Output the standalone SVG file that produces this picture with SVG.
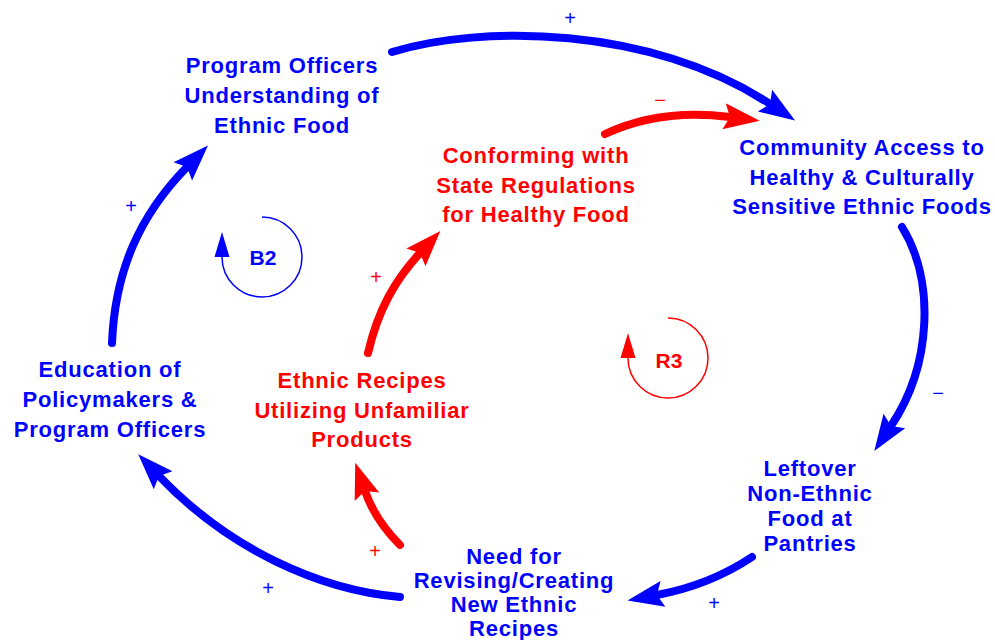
<svg xmlns="http://www.w3.org/2000/svg" width="995" height="640" viewBox="0 0 995 640">
<style>
.lbl{font-family:"Liberation Sans",Arial,sans-serif;font-weight:bold;font-size:22px;letter-spacing:0.8px;text-anchor:middle}
.b{fill:#0000FF}
.r{fill:#FF0000}
.pol{font-family:"Liberation Sans",Arial,sans-serif;font-size:20px;text-anchor:middle}
.cb{fill:none;stroke:#0000FF;stroke-width:8;stroke-linecap:round}
.cr{fill:none;stroke:#FF0000;stroke-width:8;stroke-linecap:round}
.loopb{fill:none;stroke:#0000FF;stroke-width:1.5}
.loopr{fill:none;stroke:#FF0000;stroke-width:1.5}
.lt{font-family:"Liberation Sans",Arial,sans-serif;font-weight:bold;font-size:21px;text-anchor:middle}
</style>
<defs>
<marker id="ab" markerUnits="userSpaceOnUse" markerWidth="44" markerHeight="32" viewBox="0 -16 44 32" refX="6" refY="0" orient="auto">
<path d="M0,-13 L36,0 L0,13 L6,0 z" fill="#0000FF"/>
</marker>
<marker id="ar" markerUnits="userSpaceOnUse" markerWidth="44" markerHeight="32" viewBox="0 -16 44 32" refX="6" refY="0" orient="auto">
<path d="M0,-13 L36,0 L0,13 L6,0 z" fill="#FF0000"/>
</marker>
<marker id="sb" markerUnits="userSpaceOnUse" markerWidth="28" markerHeight="18" viewBox="0 -9 28 18" refX="0" refY="0" orient="auto">
<path d="M0,-7.5 L25,0 L0,7.5 z" fill="#0000FF"/>
</marker>
<marker id="sr" markerUnits="userSpaceOnUse" markerWidth="28" markerHeight="18" viewBox="0 -9 28 18" refX="0" refY="0" orient="auto">
<path d="M0,-7.5 L25,0 L0,7.5 z" fill="#FF0000"/>
</marker>
</defs>

<g id="connectors">
<path class="cb" d="M392,52 C480,25 650,25 770,104" marker-end="url(#ab)"/>
<path class="cr" d="M605,134 Q660,108 730,117" marker-end="url(#ar)"/>
<path class="cb" d="M902,227 C935,280 932,365 891,426" marker-end="url(#ab)"/>
<path class="cb" d="M752,557 Q710,585 657,595" marker-end="url(#ab)"/>
<path class="cb" d="M400,597 C320,590 230,550 159,476" marker-end="url(#ab)"/>
<path class="cr" d="M400,545 Q375,520 365,491" marker-end="url(#ar)"/>
<path class="cr" d="M368,353 C378,310 395,280 420,253" marker-end="url(#ar)"/>
<path class="cb" d="M112,343 C115,270 140,215 187,167" marker-end="url(#ab)"/>
<text class="pol b" x="570" y="25">+</text>
<text class="pol r" x="660" y="107">−</text>
<text class="pol b" x="938" y="400">−</text>
<text class="pol b" x="714" y="610">+</text>
<text class="pol b" x="268" y="595">+</text>
<text class="pol r" x="375" y="558">+</text>
<text class="pol r" x="376" y="284">+</text>
<text class="pol b" x="131" y="213">+</text>
</g>

<g id="loop-B2">
<path class="loopb" d="M262,217 A40,40 0 1,1 222,257" marker-end="url(#sb)"/>
<text class="lt b" x="263" y="265">B2</text>
</g>
<g id="loop-R3">
<path class="loopr" d="M668,318 A40,40 0 1,1 628,358" marker-end="url(#sr)"/>
<text class="lt r" x="669" y="368">R3</text>
</g>

<g id="node-program-officers">
<text class="lbl b" x="282" y="73">Program Officers</text>
<text class="lbl b" x="282" y="103">Understanding of</text>
<text class="lbl b" x="282" y="133">Ethnic Food</text>
</g>
<g id="node-community-access">
<text class="lbl b" x="862" y="155">Community Access to</text>
<text class="lbl b" x="862" y="184.5">Healthy &amp; Culturally</text>
<text class="lbl b" x="862" y="214">Sensitive Ethnic Foods</text>
</g>
<g id="node-conforming">
<text class="lbl r" x="536" y="163">Conforming with</text>
<text class="lbl r" x="536" y="193">State Regulations</text>
<text class="lbl r" x="536" y="222">for Healthy Food</text>
</g>
<g id="node-education">
<text class="lbl b" x="110" y="377">Education of</text>
<text class="lbl b" x="110" y="407">Policymakers &amp;</text>
<text class="lbl b" x="110" y="437">Program Officers</text>
</g>
<g id="node-ethnic-recipes">
<text class="lbl r" x="362" y="388">Ethnic Recipes</text>
<text class="lbl r" x="362" y="418">Utilizing Unfamiliar</text>
<text class="lbl r" x="362" y="447">Products</text>
</g>
<g id="node-need">
<text class="lbl b" x="514" y="564">Need for</text>
<text class="lbl b" x="514" y="588">Revising/Creating</text>
<text class="lbl b" x="514" y="612">New Ethnic</text>
<text class="lbl b" x="514" y="636">Recipes</text>
</g>
<g id="node-leftover">
<text class="lbl b" x="810" y="476">Leftover</text>
<text class="lbl b" x="810" y="501">Non-Ethnic</text>
<text class="lbl b" x="810" y="526">Food at</text>
<text class="lbl b" x="810" y="551">Pantries</text>
</g>
</svg>
